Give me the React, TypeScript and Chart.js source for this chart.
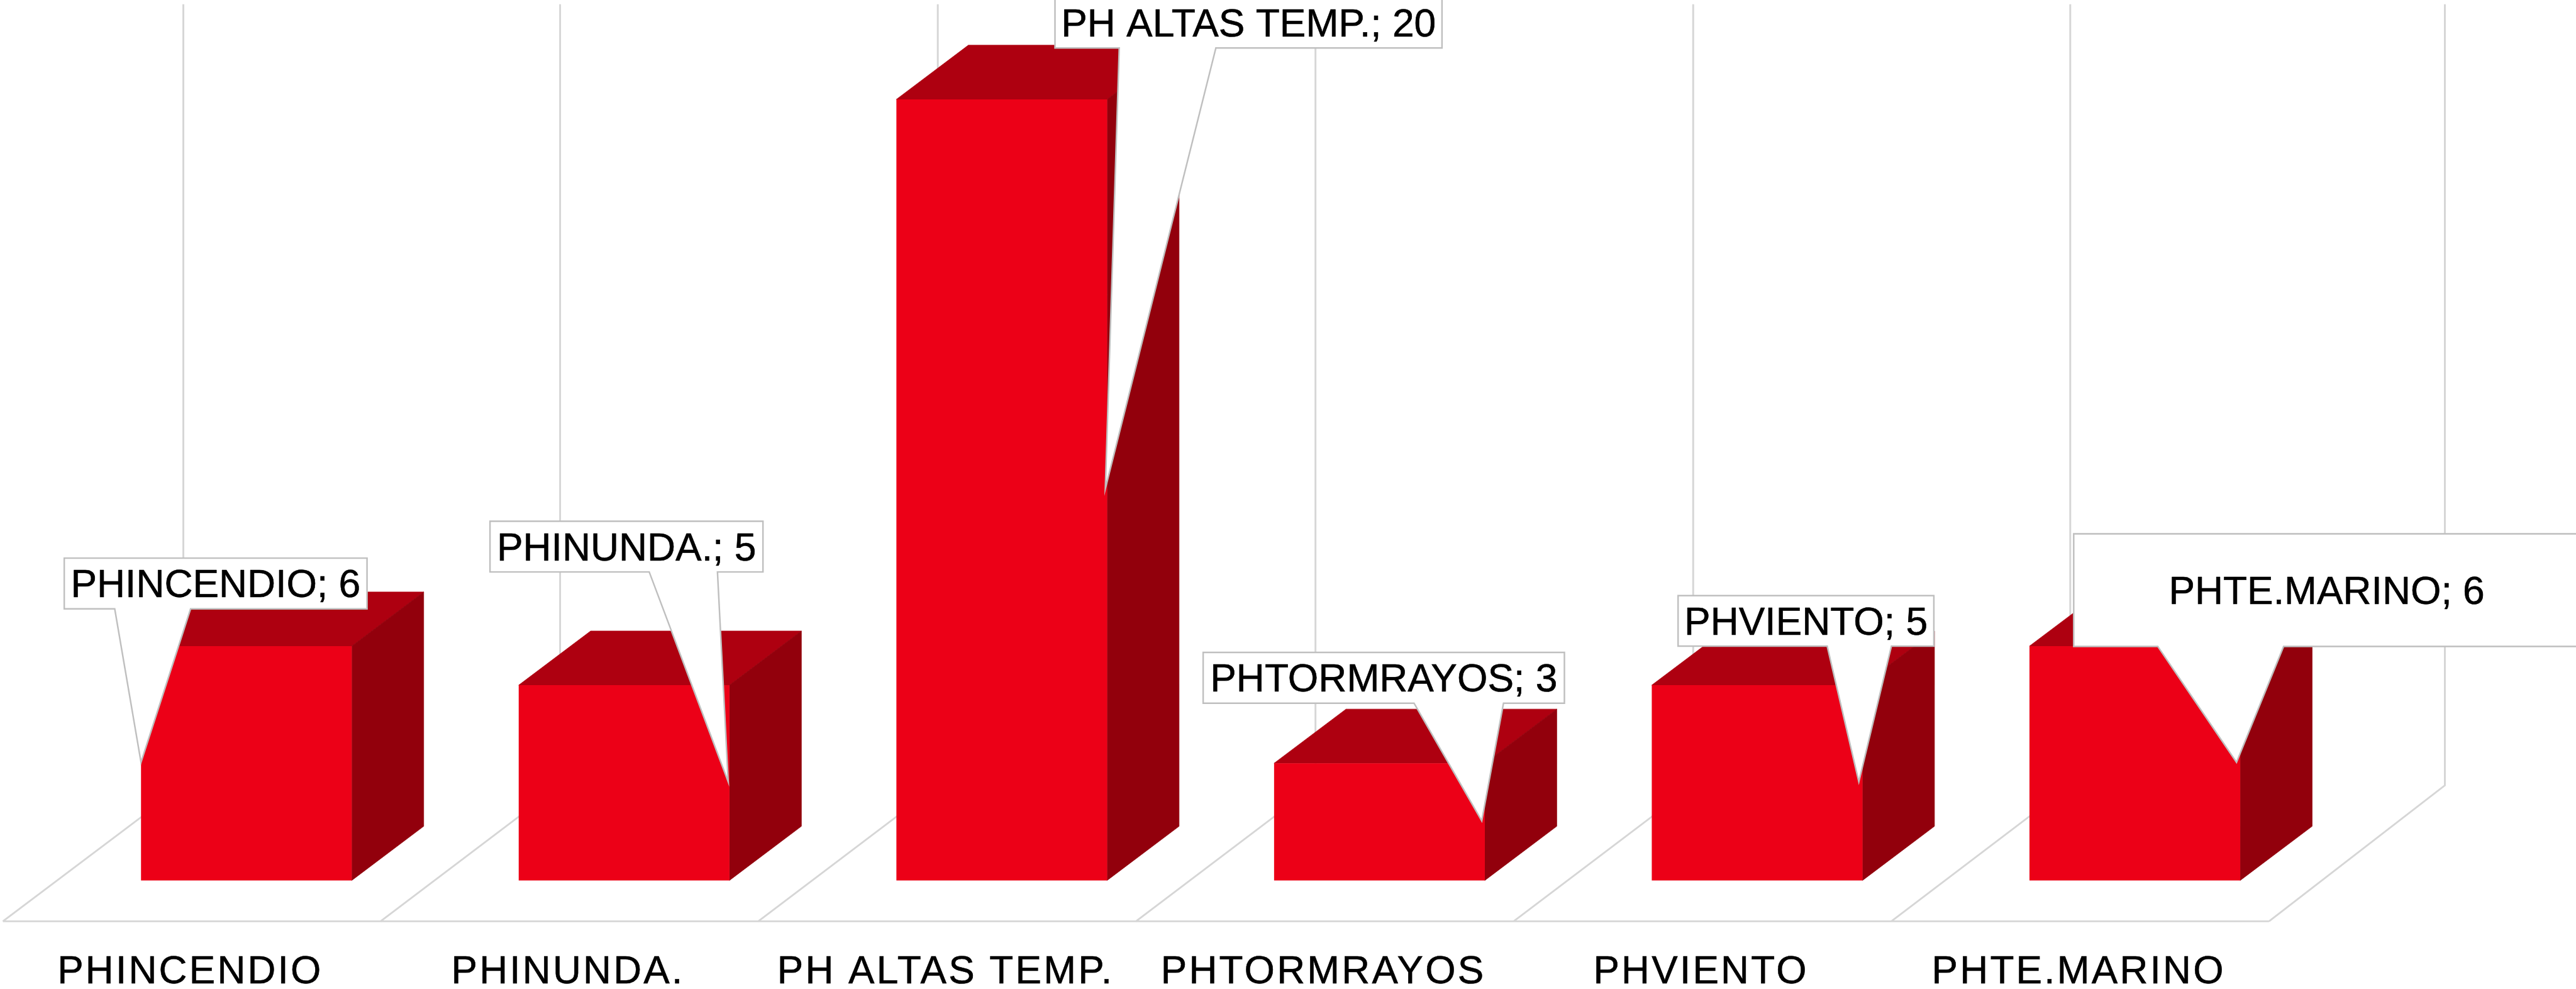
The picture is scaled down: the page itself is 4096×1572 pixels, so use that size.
import React, { useEffect, useRef } from "react";
import { Chart, registerables } from "chart.js";

Chart.register(...registerables);

const categories = ["PHINCENDIO", "PHINUNDA.", "PH ALTAS TEMP.", "PHTORMRAYOS", "PHVIENTO", "PHTE.MARINO"];
const values = [6, 5, 20, 3, 5, 6];
const axisMax = 20;

const W = 4096;
const H = 1572;
const S = W / 4190;

const FRONT = "#EC0017";
const SIDE = "#92000C";
const TOP = "#AE0010";
const GRID = "#D6D6D6";
const CALLOUT_LINE = "#BFBFBF";
const FONT = '"Liberation Sans", Arial, sans-serif';

// depth offsets in reference pixels
const BAR_PLANE = { dx: 88.9, dy: 66.5 };
const BAR_DEPTH = { dx: 117, dy: 88 };
const WALL_DY = 221;
const WALL_DX = [293.5, 292, 292, 292, 292, 291, 286];

// callout geometry in reference pixels
const callouts = [
  { l: 104.5, r: 597, t: 907.5, b: 990, wl: 186.6, wr: 310, edge: -1, tipDx: 0 },
  { l: 797, r: 1241, t: 847.5, b: 930, wl: 1056, wr: 1167, edge: 1, tipDx: -2 },
  { l: 1716, r: 2345.5, t: -4.5, b: 78, wl: 1820.5, wr: 1977.7, edge: 1, tipDx: -3 },
  { l: 1957, r: 2544.6, t: 1060.8, b: 1143.4, wl: 2300, wr: 2445.5, edge: 1, tipDx: -5 },
  { l: 2729.5, r: 3145.5, t: 968.4, b: 1050.6, wl: 2972, wr: 3076.5, edge: 1, tipDx: -6 },
  { l: 3373, r: 4196, t: 868, b: 1051, wl: 3509.7, wr: 3714.4, edge: 1, tipDx: -6 },
];

const poly = (ctx: CanvasRenderingContext2D, pts: number[][], color: string) => {
  ctx.beginPath();
  pts.forEach(([x, y], i) => (i ? ctx.lineTo(x, y) : ctx.moveTo(x, y)));
  ctx.closePath();
  ctx.fillStyle = color;
  ctx.fill();
  ctx.strokeStyle = color;
  ctx.lineWidth = 0.8;
  ctx.stroke();
};

const scene3d = {
  id: "scene3d",
  beforeDraw(chart: any) {
    const { ctx, chartArea, scales } = chart;
    ctx.letterSpacing = `${3.3 * S}px`;
    // floor and back wall
    ctx.save();
    ctx.strokeStyle = GRID;
    ctx.lineWidth = 3 * S;
    ctx.lineJoin = "miter";
    const step = (chartArea.right - chartArea.left) / categories.length;
    const top = scales.y.getPixelForValue(axisMax);
    WALL_DX.forEach((dx, i) => {
      const x = chartArea.left + i * step;
      ctx.beginPath();
      ctx.moveTo(x, chartArea.bottom);
      ctx.lineTo(x + dx * S, chartArea.bottom - WALL_DY * S);
      ctx.lineTo(x + dx * S, top - WALL_DY * S);
      ctx.stroke();
    });
    ctx.beginPath();
    ctx.moveTo(chartArea.left, chartArea.bottom);
    ctx.lineTo(chartArea.right, chartArea.bottom);
    ctx.stroke();
    ctx.restore();
  },
  beforeDatasetsDraw(chart: any) {
    const { ctx } = chart;
    ctx.letterSpacing = "0px";
    ctx.save();
    ctx.translate(BAR_PLANE.dx * S, -BAR_PLANE.dy * S);
    const dx = BAR_DEPTH.dx * S;
    const dy = BAR_DEPTH.dy * S;
    chart.getDatasetMeta(0).data.forEach((bar: any) => {
      const l = bar.x - bar.width / 2;
      const r = bar.x + bar.width / 2;
      poly(ctx, [[l, bar.y], [r, bar.y], [r + dx, bar.y - dy], [l + dx, bar.y - dy]], TOP);
      poly(ctx, [[r, bar.y], [r, bar.base], [r + dx, bar.base - dy], [r + dx, bar.y - dy]], SIDE);
    });
  },
  afterDatasetsDraw(chart: any) {
    const { ctx } = chart;
    ctx.restore();
    const bars = chart.getDatasetMeta(0).data;
    callouts.forEach((c, i) => {
      const bar = bars[i];
      const tipX = bar.x + (c.edge * bar.width) / 2 + c.tipDx * S + BAR_PLANE.dx * S;
      const tipY = (bar.y + bar.base) / 2 - BAR_PLANE.dy * S - 1.5 * S;
      ctx.save();
      ctx.beginPath();
      ctx.moveTo(c.l * S, c.t * S);
      ctx.lineTo(c.r * S, c.t * S);
      ctx.lineTo(c.r * S, c.b * S);
      ctx.lineTo(c.wr * S, c.b * S);
      ctx.lineTo(tipX, tipY);
      ctx.lineTo(c.wl * S, c.b * S);
      ctx.lineTo(c.l * S, c.b * S);
      ctx.closePath();
      ctx.fillStyle = "#FFFFFF";
      ctx.fill();
      ctx.strokeStyle = CALLOUT_LINE;
      ctx.lineWidth = 2.5 * S;
      ctx.stroke();
      const text = `${categories[i]}; ${values[i]}`;
      const tx = ((c.l + c.r) / 2) * S;
      const ty = ((c.t + c.b) / 2 + 22.5) * S;
      ctx.fillStyle = "#000000";
      ctx.font = `${63.8 * S}px ${FONT}`;
      ctx.textAlign = "center";
      ctx.textBaseline = "alphabetic";
      ctx.lineJoin = "round";
      ctx.strokeStyle = "#000000";
      ctx.lineWidth = 0.6;
      ctx.strokeText(text, tx, ty);
      ctx.fillText(text, tx, ty);
      ctx.restore();
    });
  },
};

export default function App() {
  const ref = useRef<HTMLCanvasElement>(null);
  useEffect(() => {
    document.body.style.margin = "0";
    const chart = new Chart(ref.current as HTMLCanvasElement, {
      type: "bar",
      data: {
        labels: categories,
        datasets: [
          {
            data: values,
            backgroundColor: FRONT,
            borderWidth: 0,
            categoryPercentage: 1,
            barPercentage: 0.558,
            clip: false,
          } as any,
        ],
      },
      plugins: [scene3d],
      options: {
        animation: false,
        responsive: false,
        devicePixelRatio: 1,
        layout: {
          padding: { left: 4.7 * S, right: W - 3690.7 * S, top: 228 * S, bottom: 0 },
        },
        plugins: { legend: { display: false }, tooltip: { enabled: false } },
        scales: {
          x: {
            type: "category",
            grid: { display: false, drawTicks: false },
            border: { display: false },
            afterFit(scale: any) {
              scale.height = H - 1498 * S;
            },
            ticks: {
              autoSkip: false,
              maxRotation: 0,
              minRotation: 0,
              padding: 45 * S,
              labelOffset: -2.5 * S,
              color: "#000000",
              textStrokeColor: "#000000",
              textStrokeWidth: 0.6,
              font: { family: FONT, size: 63.6 * S },
            },
          },
          y: { display: false, min: 0, max: axisMax },
        },
      } as any,
    });
    return () => chart.destroy();
  }, []);
  return <canvas ref={ref} width={W} height={H} style={{ display: "block", background: "#FFFFFF" }} />;
}
